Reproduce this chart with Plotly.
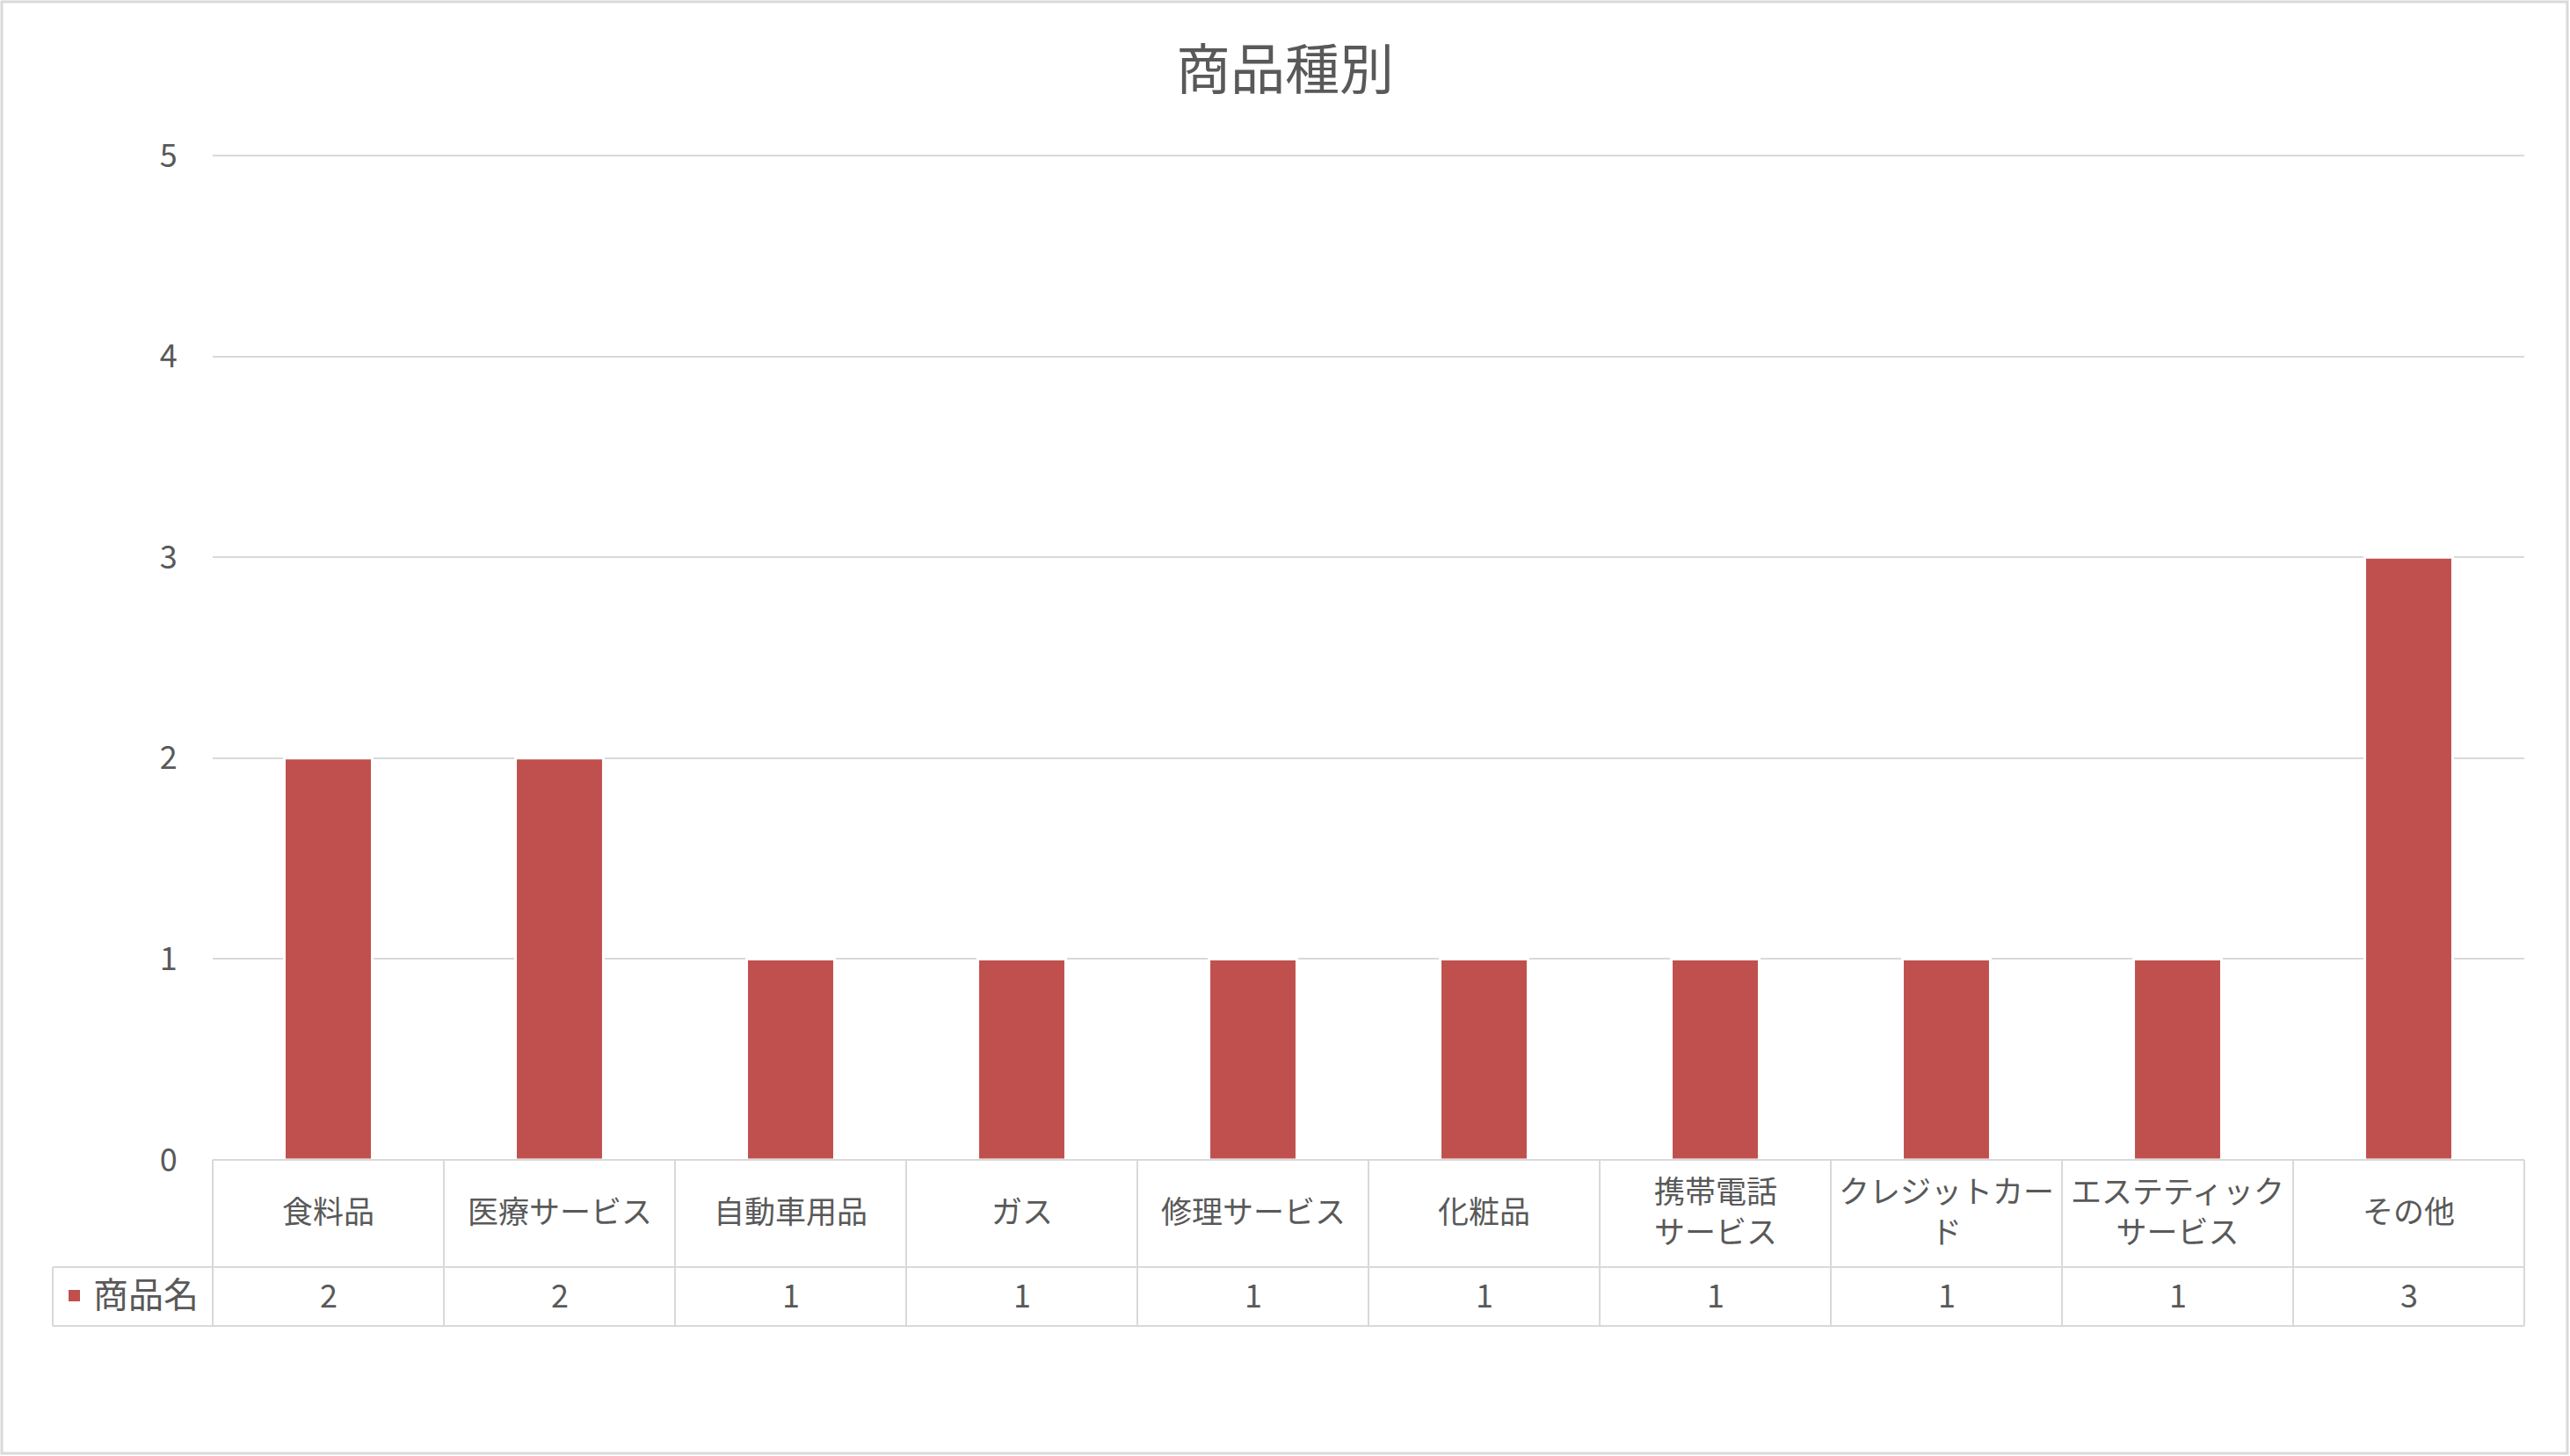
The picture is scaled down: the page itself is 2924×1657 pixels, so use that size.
import plotly.graph_objs as go

categories = ["食料品", "医療サービス", "自動車用品", "ガス", "修理サービス", "化粧品",
              "携帯電話<br>サービス", "クレジットカー<br>ド", "エステティック<br>サービス", "その他"]
counts = [2, 2, 1, 1, 1, 1, 1, 1, 1, 3]
series_name = "商品名"
title = "商品種別"
y_ticks = [0, 1, 2, 3, 4, 5]

W, H = 2924, 1657
L, R, T, B = 242, 2872, 170, 1509
TOP5 = 177   # pixel row of y=5
ZERO = 1320  # pixel row of y=0
ROW1 = 1442  # bottom of category row
BAR_COLOR = "#C0504D"
LINE = "#D9D9D9"
TEXT = "#595959"
FONT = "Noto Sans CJK JP"


def px(x):
    return (x - L) / (R - L)


def py(y):
    return (B - y) / (B - T)


k = y_ticks[-1] / (ZERO - TOP5)
y_bottom = -(B - ZERO) * k
y_top = y_ticks[-1] + (TOP5 - T) * k
xs = list(range(len(categories)))

fig = go.Figure(go.Bar(
    x=xs, y=counts, name=series_name,
    marker=dict(color=BAR_COLOR, line=dict(color="white", width=3)),
    width=0.38, hoverinfo="skip",
))

shapes = []
# table lines
shapes.append(dict(type="line", xref="paper", yref="paper", x0=0, x1=1, y0=py(ZERO), y1=py(ZERO)))
for yy in (ROW1, B):
    shapes.append(dict(type="line", xref="paper", yref="paper", x0=px(60), x1=1, y0=py(yy), y1=py(yy)))
n = len(categories)
for i in range(n + 1):
    shapes.append(dict(type="line", xref="paper", yref="paper", x0=i / n, x1=i / n, y0=py(ZERO), y1=py(B)))
shapes.append(dict(type="line", xref="paper", yref="paper", x0=px(60), x1=px(60), y0=py(ROW1), y1=py(B)))
for s in shapes:
    s["line"] = dict(color=LINE, width=2)
# legend key
shapes.append(dict(type="rect", xref="paper", yref="paper", x0=px(78), x1=px(91), y0=py(1481), y1=py(1468),
                   fillcolor=BAR_COLOR, line=dict(width=0)))
# outer border
shapes.append(dict(type="rect", xref="paper", yref="paper", x0=px(2), x1=px(W - 3), y0=py(H - 3), y1=py(2),
                   line=dict(color=LINE, width=3)))

annotations = []
for x, c, v in zip(xs, categories, counts):
    annotations.append(dict(x=x, xref="x", y=py((ZERO + ROW1) / 2 - 5), yref="paper", text=c, showarrow=False,
                            font=dict(size=35, color=TEXT, family=FONT), yanchor="middle",
                            borderpad=0))
    annotations.append(dict(x=x, xref="x", y=py((ROW1 + B) / 2 - 4), yref="paper", text=str(v), showarrow=False,
                            font=dict(size=36, color=TEXT, family=FONT), yanchor="middle"))
annotations.append(dict(x=px(104), xref="paper", y=py(1471), yref="paper", text=series_name, showarrow=False,
                        xanchor="left", yanchor="middle", font=dict(size=40, color=TEXT, family=FONT)))

fig.update_layout(
    width=W, height=H,
    margin=dict(l=L, r=W - R, t=T, b=H - B),
    paper_bgcolor="white", plot_bgcolor="white",
    title=dict(text=title, x=0.5, xanchor="center", y=1 - 80 / H, yanchor="middle",
               font=dict(size=62, color=TEXT, family=FONT)),
    font=dict(family=FONT, color=TEXT),
    showlegend=False,
    xaxis=dict(range=[-0.5, n - 0.5], showticklabels=False, showgrid=False, zeroline=False, fixedrange=True),
    yaxis=dict(range=[y_bottom, y_top], tickvals=y_ticks, ticktext=[str(t) for t in y_ticks],
               showgrid=True, gridcolor=LINE, gridwidth=2, zeroline=False,
               ticks="outside", ticklen=32, tickcolor="rgba(0,0,0,0)",
               tickfont=dict(size=36, color=TEXT, family=FONT)),
    shapes=shapes, annotations=annotations,
)

fig.write_html("out.html", config={"displayModeBar": False},
               post_script="document.body.style.margin='0';")
